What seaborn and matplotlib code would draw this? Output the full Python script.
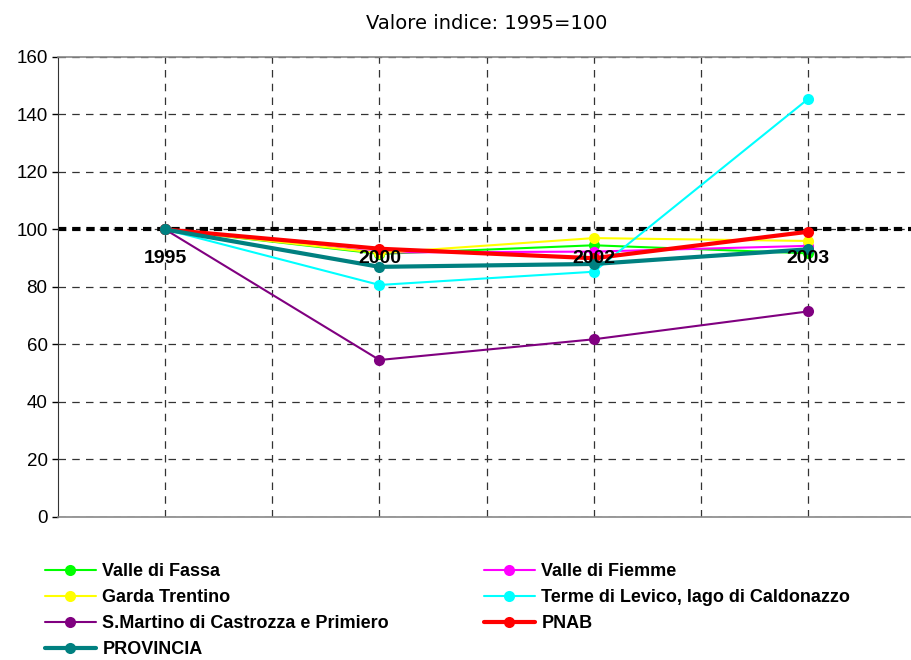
import pandas as pd
import matplotlib
matplotlib.use('Agg')
import matplotlib.pyplot as plt
import seaborn as sns
from matplotlib.lines import Line2D

years = ['1995', '2000', '2002', '2003']
valle_fassa = [100, 91.5, 94.5, 91.7]
valle_fiemme = [100, 92.0, 92.3, 94.3]
garda = [100, 91.8, 97.0, 96.0]
terme_levico = [100, 80.7, 85.3, 145.4]
s_martino = [100, 54.6, 61.8, 71.5]
pnab = [100, 93.3, 90.0, 99.2]
provincia = [100, 87.0, 88.0, 93.1]

names = ['Valle di Fassa', 'Valle di Fiemme', 'Garda Trentino',
         'Terme di Levico, lago di Caldonazzo',
         'S.Martino di Castrozza e Primiero', 'PNAB', 'PROVINCIA']
series = [valle_fassa, valle_fiemme, garda, terme_levico, s_martino, pnab, provincia]
colors = ['#00ff00', '#ff00ff', '#ffff00', '#00ffff', '#800080', '#ff0000', '#008080']
widths = [1.5, 1.5, 1.5, 1.5, 1.5, 3, 3]

sns.set_style('white')
plt.rcParams['font.family'] = ['DejaVu Sans']
plt.rcParams['text.color'] = 'black'
plt.rcParams['ytick.color'] = 'black'
plt.rcParams['ytick.labelcolor'] = 'black'

fig = plt.figure(figsize=(9.12, 6.6), dpi=100)
ax = fig.add_axes([0.0636, 0.2167, 0.94, 0.697])

# category positions on a half-step grid
xpos = [2 * i for i in range(len(years))]

rows = []
for n, s in zip(names, series):
    for x, v in zip(xpos, s):
        rows.append({'region': n, 'x': x, 'value': v})
df = pd.DataFrame(rows)

ax.axhline(100, color='black', lw=3, ls=(0, (2.0, 1.4)), zorder=1)

handles = []
for n, c, w in zip(names, colors, widths):
    sns.lineplot(data=df[df['region'] == n], x='x', y='value', color=c, lw=w,
                 marker='o', markersize=8, markeredgewidth=0, ax=ax, zorder=3)
    handles.append(Line2D([], [], color=c, lw=w, marker='o', markersize=8,
                          markeredgewidth=0, label=n))

for x, y in zip(xpos, years):
    ax.text(x, 90, y, ha='center', va='center', fontsize=14, fontweight='bold',
            family='Liberation Sans', color='black', zorder=4)

ax.set_xlim(-1, 7)
ax.set_ylim(0, 160)
ax.set_yticks(range(0, 161, 20))
ax.set_xticks(range(0, 8))
ax.set_xticklabels([])
ax.tick_params(axis='x', length=0)
ax.tick_params(axis='y', length=4, labelsize=13.5, left=True, width=1)
for lbl in ax.get_yticklabels():
    lbl.set_family('Liberation Sans')
ax.grid(True, color='#333333', ls=(0, (6, 5)), lw=0.9, zorder=0)
ax.set_axisbelow(True)
ax.set_xlabel('')
ax.set_ylabel('')
for sp in ['top', 'bottom']:
    ax.spines[sp].set_color('#888888')
    ax.spines[sp].set_linewidth(1.2)
ax.spines['left'].set_color('#333333')
ax.spines['right'].set_visible(False)

ax.set_title('Valore indice: 1995=100', fontsize=14, pad=20)

legfont = {'family': 'Liberation Sans', 'weight': 'bold', 'size': 13}
left_items = [0, 2, 4, 6]
right_items = [1, 3, 5]
leg1 = fig.legend([handles[i] for i in left_items], [names[i] for i in left_items],
                  loc='upper left', bbox_to_anchor=(45 / 912, 1 - 563 / 660),
                  frameon=False, borderpad=0, borderaxespad=0, handlelength=2.8,
                  labelspacing=0.5, handletextpad=0.38, prop=legfont)
leg2 = fig.legend([handles[i] for i in right_items], [names[i] for i in right_items],
                  loc='upper left', bbox_to_anchor=(484 / 912, 1 - 563 / 660),
                  frameon=False, borderpad=0, borderaxespad=0, handlelength=2.8,
                  labelspacing=0.5, handletextpad=0.38, prop=legfont)

fig.savefig('out.png', dpi=100)
